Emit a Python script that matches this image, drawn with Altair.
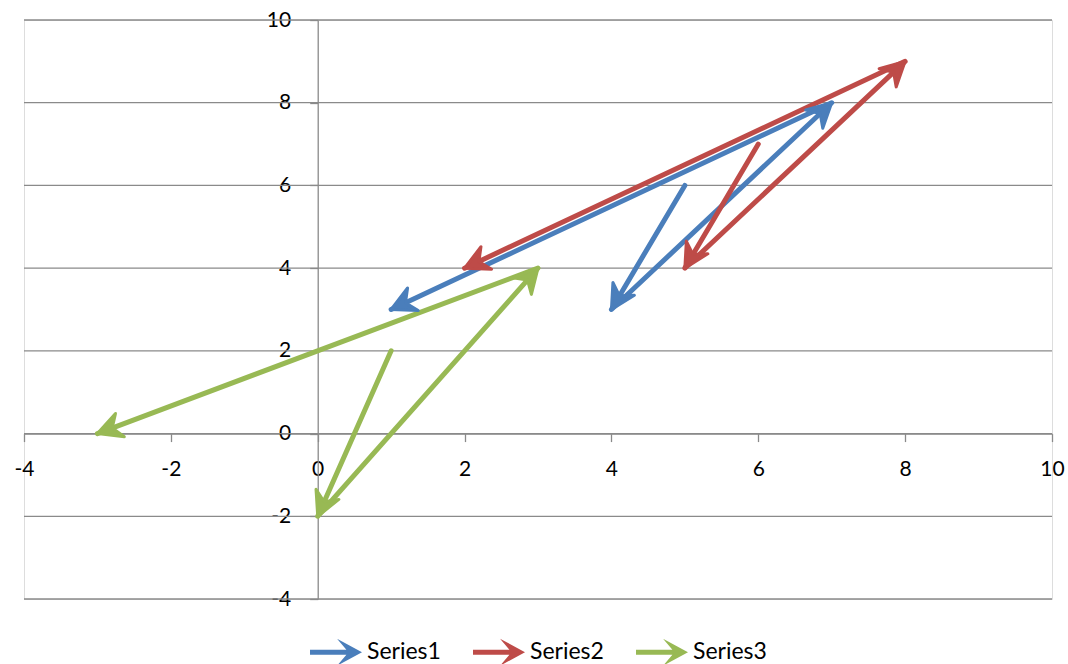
import math
import altair as alt
import pandas as pd

# Three series of connected points; each segment ends in an arrowhead
series_names = ["Series1", "Series2", "Series3"]
series1_x = [5, 4, 7, 1]
series1_y = [6, 3, 8, 3]
series2_x = [6, 5, 8, 2]
series2_y = [7, 4, 9, 4]
series3_x = [1, 0, 3, -3]
series3_y = [2, -2, 4, 0]

tick_values = [-4, -2, 0, 2, 4, 6, 8, 10]
colors = ["#4A7EBB", "#BE4B48", "#98B954"]

X_MIN, X_MAX = -4, 10
Y_MIN, Y_MAX = -4, 10
W, H = 1028, 579
px_x = W / (X_MAX - X_MIN)
px_y = H / (Y_MAX - Y_MIN)

FONT = "Lato"
GRID = "#8a8a8a"

rows = []
heads = []
for name, xs, ys in zip(series_names,
                        [series1_x, series2_x, series3_x],
                        [series1_y, series2_y, series3_y]):
    for i, (x, y) in enumerate(zip(xs, ys)):
        rows.append({"series": name, "idx": i, "x": x, "y": y})
        if i > 0:
            dx = (x - xs[i - 1]) * px_x
            dy = -(y - ys[i - 1]) * px_y
            ang = math.degrees(math.atan2(dy, dx)) % 360
            heads.append({"series": name, "x": x, "y": y, "angle": ang})

pts = pd.DataFrame(rows)
heads_df = pd.DataFrame(heads)
grid_df = pd.DataFrame({"v": tick_values})

xscale = alt.Scale(domain=[X_MIN, X_MAX], nice=False, zero=False)
yscale = alt.Scale(domain=[Y_MIN, Y_MAX], nice=False, zero=False)

axis_common = dict(
    grid=False, domainColor=GRID, domainWidth=1.3, tickColor=GRID, tickWidth=1.3,
    tickSize=8, labelFont=FONT, labelFontSize=21, labelColor="#000000",
    title=None, values=tick_values, labelExpr="'' + datum.value",
)
xaxis = alt.Axis(orient="bottom", offset=-(0 - Y_MIN) * px_y, labelPadding=17,
                 labelFlush=False, labelOverlap=False, **axis_common)
yaxis = alt.Axis(orient="left", offset=-(0 - X_MIN) * px_x, labelPadding=19,
                 labelOverlap=False, **axis_common)

color_scale = alt.Scale(domain=series_names, range=colors)

# arrow-shaped legend symbol (shaft + notched head)
legend_arrow = ("M-1,-0.095 L0.4,-0.095 L0.04,-0.52 L1,0 "
                "L0.04,0.52 L0.4,0.095 L-1,0.095 Z")
legend = alt.Legend(
    orient="none", direction="horizontal", title=None,
    legendX=286, legendY=606, symbolType=legend_arrow, symbolSize=2704,
    symbolStrokeWidth=0, symbolOpacity=1, labelFont=FONT, labelFontSize=23,
    labelColor="#000000", labelOffset=5, columnPadding=32, padding=0,
)

gridlines = alt.Chart(grid_df).mark_rule(color=GRID, strokeWidth=1.3).encode(
    y=alt.Y("v:Q", scale=yscale, axis=yaxis)
)

lines = alt.Chart(pts).mark_line(
    strokeWidth=5, strokeCap="round", strokeJoin="round"
).encode(
    x=alt.X("x:Q", scale=xscale, axis=xaxis),
    y=alt.Y("y:Q", scale=yscale),
    color=alt.Color("series:N", scale=color_scale, legend=legend),
    order="idx:Q",
)

# notched arrowhead with its tip at the origin, pointing along +x;
# a thin outline in the same colour gives the heads their weight
head_shape = "M0,0 L-1,-0.52 L-0.66,0 L-1,0.52 Z"
arrowheads = alt.Chart(heads_df).mark_point(
    filled=True, opacity=1, shape=head_shape, size=2304,
    strokeWidth=3, strokeJoin="round", strokeOpacity=1,
).encode(
    x=alt.X("x:Q", scale=xscale),
    y=alt.Y("y:Q", scale=yscale),
    color=alt.Color("series:N", scale=color_scale, legend=legend),
    stroke=alt.Stroke("series:N", scale=color_scale, legend=None),
    angle=alt.Angle("angle:Q", scale=None),
)

chart = alt.layer(gridlines, lines, arrowheads).properties(
    width=W, height=H,
    autosize="none",
    padding={"left": 24, "top": 20, "right": 16, "bottom": 65},
).configure_view(stroke=None).configure(background="#ffffff")

chart.save("out.html", embed_options={"renderer": "svg", "actions": False})
